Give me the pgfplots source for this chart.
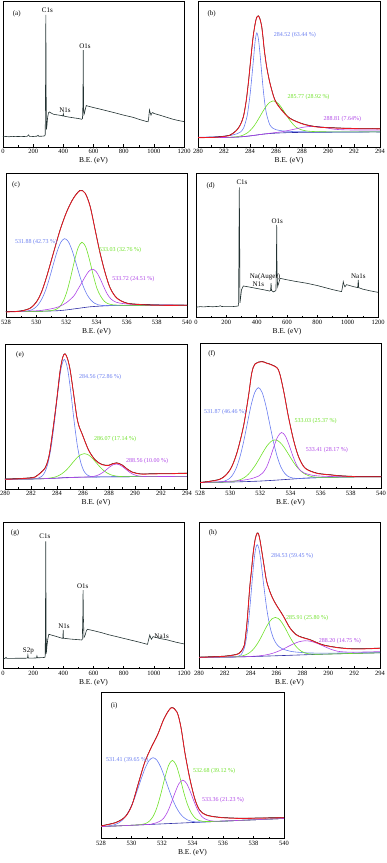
\documentclass[border=0pt]{standalone}
\usepackage{pgfplots}
\pgfplotsset{compat=1.18}
\usepackage{pgfplotstable}
\usepackage{fontspec}
\setmainfont{Liberation Serif}
\definecolor{cblue}{RGB}{105,125,240}
\definecolor{cgreen}{RGB}{110,225,40}
\definecolor{cpurple}{RGB}{175,70,230}
\definecolor{cbg}{RGB}{45,45,165}
\definecolor{cred}{RGB}{235,25,35}
\definecolor{csurv}{RGB}{35,50,50}
\tikzset{
 lab/.style={font=\fontsize{6}{6}\selectfont, inner sep=0pt},
 plab/.style={font=\fontsize{7}{7}\selectfont, inner sep=0pt},
}
\pgfplotsset{
 panel/.style={scale only axis, anchor=south west, ymin=0, ymax=100, ytick=\empty,
   xtick pos=bottom, tick align=inside, major tick length=2.5pt, minor tick length=1.5pt,
   minor x tick num=1, axis line style={line width=0.5pt},
   every tick/.style={line width=0.4pt, black},
   tick label style={font=\fontsize{6.5}{7}\selectfont},
   xticklabel style={yshift=1pt},
   /pgf/number format/assume math mode=true, /pgf/number format/1000 sep={},
   xlabel={B.E. (eV)}, xlabel style={font=\fontsize{7.5}{8}\selectfont, yshift=3pt}},
 survey/.style={panel, xmin=0, xmax=1200, xtick={0,200,...,1200}},
 cpan/.style={panel, xmin=280, xmax=294, xtick={280,282,...,294}},
 opan/.style={panel, xmin=528, xmax=540, xtick={528,530,...,540}},
 sv/.style={csurv, line width=0.6pt, sharp plot},
 bgl/.style={cbg, line width=0.6pt, smooth},
 fb/.style={cblue, line width=0.6pt, smooth},
 fg/.style={cgreen, line width=0.6pt, smooth},
 fp/.style={cpurple, line width=0.6pt, smooth},
 fk/.style={black, line width=0.5pt, smooth, yshift=0.3pt},
 fr/.style={cred, line width=0.8pt, smooth},
}
\pgfplotstableread{
x y
280 6.4
281 6.5
281.7 6.9
282.46 8.0
282.97 11.4
283.25 15
283.49 20.6
283.7 31
283.87 43.5
284.0 55
284.13 66.4
284.25 76
284.38 83.5
284.5 88.3
284.64 89.7
284.77 87.5
284.9 82.4
285.0 75
285.1 66.4
285.28 54.9
285.54 43.5
285.92 32.0
286.44 25.2
287.08 19.5
288.1 15.6
289.13 13.7
290 13.2
291 12.8
292 12.6
293 12.5
294 12.4
}\redb
\pgfplotstableread{
x y
528 3.7
528.93 4.2
529.6 6.2
530.04 10.9
530.37 17.8
530.7 28.2
531.14 44.3
531.59 60.5
532.03 73.2
532.47 82.4
532.91 87.8
533.25 85.9
533.58 76.7
533.91 60.5
534.24 44.3
534.58 30.5
534.91 20.1
535.35 13.2
536.01 9.7
536.9 8.8
538.2 8.3
540 8.3
}\redc
\pgfplotstableread{
x y
280 6.7
281 7.0
282 7.6
282.3 8.1
282.7 10.8
283.08 14.3
283.3 19.5
283.47 26.9
283.72 43.0
283.98 61.4
284.24 81.5
284.45 91.0
284.62 93.1
284.8 90.0
285.01 82.1
285.27 66.0
285.52 49.9
285.7 43.0
285.91 38.4
286.42 26.9
286.93 20.0
287.45 16.8
287.96 16.2
288.3 17.4
288.6 17.9
289.0 16.5
289.38 13.8
289.8 11.5
290.4 10.3
291 10.3
292 10.5
293 10.6
294 10.8
}\rede
\pgfplotstableread{
x y
528 3.9
529.33 6.2
529.99 12.6
530.44 24.1
530.88 42.5
531.21 63.2
531.43 79.3
531.65 85.7
532.1 87.3
532.42 86.2
532.76 85.0
533.2 81.6
533.53 67.8
533.86 49.4
534.2 33.3
534.53 21.8
534.97 13.8
535.75 10.3
536.63 9.2
537.3 8.5
538.4 8.0
540 8.0
}\redf
\pgfplotstableread{
x y
280 7.5
281 7.8
282 8.2
282.8 9.2
283.1 10.2
283.29 11.8
283.45 14.5
283.54 17.5
283.72 32
283.93 55.9
284.06 67
284.19 78.8
284.35 88.5
284.5 92.5
284.62 91.5
284.75 86
285.0 72
285.22 60
285.5 52
285.75 47
286.0 43
286.5 36
287.0 28
287.5 23
288.0 21
288.58 19.5
289.6 15.9
290.9 13.9
292.2 13.2
294 13.7
}\redh
\pgfplotstableread{
x y
528 8.4
528.97 10.7
529.6 14.8
530.03 22.7
530.45 37.5
530.87 52
531.29 62
531.72 71
532.14 82
532.6 89.3
532.98 86.4
533.24 76.1
533.51 58.0
533.83 40.5
534.15 27
534.46 19.3
534.89 15.9
535.73 14.3
537.21 13.6
540 14.1
}\redi
\begin{document}
\begin{tikzpicture}
\path[use as bounding box] (0pt,0pt) rectangle (387pt,863pt);
% (a)
\begin{axis}[survey, at={(3pt,716pt)}, width=181pt, height=146pt]
\addplot[sv] coordinates {(0,7.0)(20,7.2)(40,7.0)(60,7.3)(80,7.1)(100,7.2)(120,7.1)(140,7.2)(160,7.3)(170,8.3)(175,7.3)(200,7.2)(225,7.4)(232,8.0)(238,7.3)(260,7.4)(276,7.6)(280,8.5)(282,40)(284,90.5)(286,40)(288,12)(291,14.4)(296,20.5)(302,23.5)(308,24)(315,23.5)(335,22.4)(360,22.0)(390,21.5)(397,21.2)(400,22.8)(403,21.2)(430,20.6)(467,20.0)(500,19.5)(522,19.0)(527,19.5)(530,30)(532,66.4)(534,30)(536,22)(540,23)(546,26)(552,28.4)(556,28.2)(600,27.0)(650,25.8)(700,24.5)(753,23.1)(800,21.8)(863,20.3)(900,19.0)(950,17.5)(962,17.3)(966,20)(971,25.4)(976,23.5)(981,21.8)(987,23.2)(993,23.6)(1000,23.0)(1040,21.8)(1080,20.5)(1127,19.0)(1160,18.2)(1200,17.4)};
\node[plab] at (91,91.1) {(a)};
\node[plab] at (294,93.5) {C1s};
\node[plab] at (544,69.2) {O1s};
\node[plab] at (411,24.9) {N1s};
\end{axis}
% (b)
\begin{axis}[cpan, at={(198pt,716pt)}, width=182pt, height=146pt]
\addplot[bgl] coordinates {(280,6.4)(281,6.4)(282,6.5)(283,6.8)(283.5,7.1)(284,7.6)(284.5,8.2)(285,8.8)(285.5,9.2)(286,9.5)(286.5,9.7)(287,9.85)(288,10.0)(289,10.05)(290,10.1)(291,10.2)(292,10.2)(293,10.3)(294,10.3)};
\addplot[fb] coordinates {(280,6.7)(281.02,6.9)(282.02,7.4)(282.52,7.9)(282.77,8.5)(283.02,9.1)(283.27,10.3)(283.52,13.2)(283.77,20.9)(283.895,28.1)(284.02,37.0)(284.145,48.3)(284.27,60.2)(284.395,72.4)(284.52,78.2)(284.645,74.2)(284.77,63.8)(284.895,51.2)(285.02,39.2)(285.145,29.5)(285.27,22.6)(285.52,15.3)(285.77,12.8)(286.02,11.8)(286.27,11.35)(286.52,11.0)(287.02,10.7)(287.52,10.5)(288.02,10.5)(288.52,10.35)(289.02,10.3)(290.52,10.3)(292.52,10.3)(294,10.36)};
\addplot[fg] coordinates {(280,6.4)(281.02,6.4)(282.02,6.5)(282.52,6.65)(282.77,6.8)(283.02,7.1)(283.27,7.5)(283.52,8.3)(283.77,9.5)(284.02,11.4)(284.27,13.9)(284.52,17.2)(284.77,21.0)(285.02,24.8)(285.27,28.2)(285.52,30.6)(285.77,31.6)(286.02,30.9)(286.27,28.8)(286.52,25.7)(287.02,18.85)(287.52,13.7)(288.02,11.6)(288.52,10.8)(289.02,10.55)(289.52,10.45)(290.52,10.35)(292.52,10.35)(294,10.35)};
\addplot[fp] coordinates {(280,6.4)(282,6.5)(283,6.8)(284,7.6)(284.77,8.5)(285.27,9.1)(285.77,9.67)(286.27,10.21)(286.52,10.57)(287.02,11.44)(287.52,12.41)(288.02,13.41)(288.52,14.0)(289.02,14.1)(289.52,13.63)(290.52,12.15)(291.52,11.7)(292.52,11.65)(294,11.6)};
\addplot[fk] table {\redb};
\addplot[fr] table {\redb};
\node[plab] at (281.05,91) {(b)};
\node[lab, text=cblue] at (287.46,76.7) {284.52 (63.44 \%)};
\node[lab, text=cgreen] at (288.5,34.3) {285.77 (28.92 \%)};
\node[lab, text=cpurple] at (291.1,19.2) {288.81 (7.64\%)};
\end{axis}
% (c)
\begin{axis}[opan, at={(6pt,545.7pt)}, width=181pt, height=144.3pt]
\addplot[bgl] coordinates {(528,3.9)(529,3.9)(530,4.1)(531,4.4)(531.5,4.6)(532,5.1)(532.5,5.8)(533,6.5)(533.5,7.2)(534,7.6)(534.5,7.9)(535,8.1)(536,8.3)(537,8.3)(538,8.4)(540,8.3)};
\addplot[fb] coordinates {(528,3.9)(529.13,4.0)(529.38,4.3)(529.63,4.9)(529.88,6.2)(530.13,8.7)(530.38,12.8)(530.63,18.9)(530.88,27.1)(531.13,36.4)(531.38,45.3)(531.63,51.9)(531.88,54.5)(532.13,52.5)(532.38,46.4)(532.63,37.9)(532.88,29.0)(533.13,21.3)(533.38,15.6)(533.63,11.9)(533.88,9.7)(534.13,8.6)(534.38,8.2)(534.63,8.1)(535,8.1)(536,8.3)(538,8.4)(540,8.3)};
\addplot[fg] coordinates {(528,3.9)(529.5,4.0)(530.5,4.25)(531.03,4.65)(531.28,5.35)(531.53,7.0)(531.78,10.85)(532.03,17.55)(532.28,27.4)(532.53,38.75)(532.78,48.15)(533.03,52.0)(533.28,48.9)(533.53,40.1)(533.78,29.3)(534.03,20.0)(534.28,14.5)(534.53,11.0)(534.78,9.4)(535.03,8.7)(535.5,8.4)(536,8.3)(538,8.4)(540,8.3)};
\addplot[fp] coordinates {(528,3.9)(530,4.5)(530.5,5.05)(531,5.9)(531.5,7.3)(532,10.1)(532.5,14.8)(532.72,18.6)(532.97,22.95)(533.22,27.6)(533.47,31.65)(533.72,33.3)(533.97,31.8)(534.22,27.25)(534.47,21.4)(534.72,16.0)(534.97,12.6)(535.3,10.45)(535.8,9.45)(536.5,8.9)(537.5,8.65)(540,8.4)};
\addplot[fk] table {\redc};
\addplot[fr] table {\redc};
\node[plab] at (528.66,91.7) {(c)};
\node[lab, text=cblue] at (530.0,52) {531.88 (42.73 \%)};
\node[lab, text=cgreen] at (535.57,46.6) {533.03 (32.76 \%)};
\node[lab, text=cpurple] at (536.45,26.5) {533.72 (24.51 \%)};
\end{axis}
% (d)
\begin{axis}[survey, at={(196pt,545.7pt)}, width=182pt, height=144.3pt]
\addplot[sv] coordinates {(0,7.0)(30,7.4)(50,7.2)(80,7.5)(110,7.3)(150,7.6)(160,8.0)(170,7.5)(220,7.6)(250,7.5)(278,7.8)(281,10)(283,50)(285.6,90)(288,50)(290,10)(293,12.5)(300,19)(312,21.7)(350,21.0)(400,20.0)(450,19.0)(485,18.2)(492,18.5)(495,23.6)(498,18.6)(510,17.6)(527,18.5)(530,35)(532,64)(534,35)(538,21.1)(545,23.5)(554,27.0)(600,26.0)(650,25.0)(730,23.6)(800,22.0)(900,19.2)(960,17.8)(966,21)(971,24.7)(976,22.5)(982,21.1)(992,22.6)(1000,22.4)(1040,21.2)(1066,20.6)(1070,25.9)(1073,20.5)(1100,19.5)(1150,18.3)(1200,17.3)};
\node[plab] at (97,91.2) {(d)};
\node[plab] at (303,93.5) {C1s};
\node[plab] at (536,66.5) {O1s};
\node[plab] at (455,27.7) {Na(Auger)};
\node[plab] at (411,23.1) {N1s};
\node[plab] at (1070,28.5) {Na1s};
\end{axis}
% (e)
\begin{axis}[cpan, at={(5pt,374pt)}, width=182pt, height=145pt]
\addplot[bgl] coordinates {(280,6.7)(282,6.9)(283,7.1)(284,7.5)(284.5,7.8)(285,8.0)(286,8.2)(287,8.3)(288,8.4)(290,8.5)(292,8.6)(294,8.7)};
\addplot[fb] coordinates {(280,6.7)(281,6.8)(282,6.9)(282.56,7.45)(282.81,8.57)(283.06,11.5)(283.31,17.95)(283.56,29.55)(283.81,46.7)(284.06,66.45)(284.31,82.9)(284.56,89.4)(284.81,83.1)(285.06,66.9)(285.31,47.3)(285.56,30.3)(285.81,18.85)(286.06,12.57)(286.31,9.77)(286.56,8.7)(287,8.3)(288,8.4)(290,8.5)(292,8.6)(294,8.7)};
\addplot[fg] coordinates {(280,6.7)(282,6.9)(283.1,7.2)(283.35,7.45)(283.6,7.75)(283.85,8.25)(284.1,9.1)(284.35,10.35)(284.6,12.1)(284.85,14.3)(285.1,17.0)(285.35,19.65)(285.6,22.1)(285.85,23.75)(286.1,24.4)(286.35,23.85)(286.6,22.25)(286.85,19.9)(287.1,17.3)(287.35,14.8)(287.6,12.65)(287.85,11.05)(288.1,9.92)(288.35,9.25)(288.6,8.85)(288.85,8.65)(289.1,8.55)(290,8.5)(292,8.6)(294,8.7)};
\addplot[fp] coordinates {(280,6.7)(282,6.9)(284,7.5)(286,8.2)(286.56,8.42)(286.81,8.7)(287.06,9.24)(287.31,10.2)(287.56,11.6)(287.81,13.4)(288.06,15.26)(288.31,16.7)(288.56,17.23)(288.81,16.7)(289.06,15.3)(289.31,13.5)(289.56,11.7)(289.81,10.35)(290.06,9.44)(290.31,8.92)(290.56,8.7)(291,8.55)(292,8.6)(294,8.7)};
\addplot[fk] table {\rede};
\addplot[fr] table {\rede};
\node[plab] at (281.16,92.4) {(e)};
\node[lab, text=cblue] at (287.32,77.4) {284.56 (72.86 \%)};
\node[lab, text=cgreen] at (288.47,34.5) {286.07 (17.14 \%)};
\node[lab, text=cpurple] at (290.94,19.1) {288.56 (10.00 \%)};
\end{axis}
% (f)
\begin{axis}[opan, at={(200pt,374.7pt)}, width=181pt, height=145pt]
\addplot[bgl] coordinates {(528,3.9)(530,4.3)(531,4.6)(532,5.0)(533,5.6)(534,6.3)(535,7.0)(536,7.4)(538,7.8)(540,8.0)};
\addplot[fb] coordinates {(528,3.9)(529.12,4.18)(529.37,4.4)(529.62,4.92)(529.87,6.11)(530.12,8.57)(530.37,13.1)(530.62,20.6)(530.87,31.06)(531.12,43.75)(531.37,56.45)(531.62,65.85)(531.87,69.45)(532.12,66.07)(532.37,56.9)(532.62,44.47)(532.87,32.02)(533.12,21.78)(533.37,14.56)(533.62,10.27)(533.87,8.04)(534.12,7.1)(534.37,6.81)(534.62,6.81)(535,7.0)(536,7.4)(538,7.8)(540,8.0)};
\addplot[fg] coordinates {(528,3.9)(529.95,4.46)(530.2,4.74)(530.45,5.24)(530.7,6.1)(530.95,7.48)(531.2,9.6)(531.45,12.7)(531.7,16.38)(531.95,20.78)(532.2,25.3)(532.45,29.37)(532.7,32.22)(532.95,33.37)(533.2,32.54)(533.45,30.02)(533.7,26.29)(533.95,22.07)(534.2,17.94)(534.45,14.4)(534.7,11.71)(534.95,9.86)(535.2,8.66)(535.45,7.99)(535.7,7.67)(535.95,7.55)(536.5,7.55)(538,7.8)(540,8.0)};
\addplot[fp] coordinates {(528,3.9)(529.41,4.55)(530.41,5.12)(530.91,5.68)(531.41,6.66)(531.91,8.57)(532.16,10.6)(532.41,14.54)(532.66,21.2)(532.91,29.05)(533.16,35.7)(533.41,38.48)(533.66,36.06)(533.91,29.74)(534.16,22.21)(534.41,15.89)(534.66,12.26)(534.91,10.54)(535.41,9.06)(535.91,8.46)(536.41,8.18)(537.41,8.03)(538.5,8.0)(540,8.1)};
\addplot[fk] table {\redf};
\addplot[fr] table {\redf};
\node[plab] at (528.78,92.6) {(f)};
\node[lab, text=cblue] at (529.66,52.4) {531.87 (46.46 \%)};
\node[lab, text=cgreen] at (535.66,46.4) {533.03 (25.37 \%)};
\node[lab, text=cpurple] at (536.41,26.4) {533.41 (28.17 \%)};
\end{axis}
% (g)
\begin{axis}[survey, at={(3pt,194.7pt)}, width=181pt, height=146pt]
\addplot[sv] coordinates {(0,6.2)(15,6.9)(20,7.5)(25,6.8)(60,6.8)(100,6.9)(150,6.9)(162,7.0)(165,9.1)(168,7.0)(200,7.0)(222,7.1)(225,8.5)(228,7.2)(260,7.3)(278,7.5)(280,9)(282,45)(283.5,87)(285,45)(287,10)(291,14.8)(297,20.0)(304,23.3)(330,22.5)(357,21.7)(394,20.5)(397,20.5)(399,26.3)(401,20.6)(450,20.0)(500,19.6)(522,19.4)(526,20)(529,35)(531,53.6)(533,35)(537,21.2)(544,22.5)(552,25.5)(559,26.7)(600,25.8)(650,24.5)(700,23.0)(753,21.7)(800,20.5)(900,18.0)(958,16.4)(964,19)(973,22.8)(979,21)(984,19.9)(995,21.7)(1040,20.4)(1083,19.6)(1150,17.8)(1200,16.7)};
\node[plab] at (80,92.5) {(g)};
\node[plab] at (278,90.5) {C1s};
\node[plab] at (528,56) {O1s};
\node[plab] at (404,28.8) {N1s};
\node[plab] at (168,12) {S2p};
\node[plab] at (1052,22.3) {Na1s};
\end{axis}
% (h)
\begin{axis}[cpan, at={(199pt,194.7pt)}, width=181pt, height=146pt]
\addplot[bgl] coordinates {(280,7.4)(283,7.8)(285,8.3)(287,8.9)(289,9.5)(291,10.0)(294,10.6)};
\addplot[fb] coordinates {(280,7.4)(281,7.53)(282,7.67)(282.5,7.73)(282.75,7.8)(283,8.03)(283.25,9.21)(283.5,13.73)(283.625,18.56)(283.75,25.89)(283.875,35.92)(284,48.15)(284.125,61.28)(284.25,73.21)(284.375,81.64)(284.5,84.68)(284.625,82.31)(284.75,75.84)(284.875,67.02)(285,57.4)(285.25,40.18)(285.5,28.05)(285.75,20.73)(286,16.6)(286.25,14.38)(286.5,13.11)(287,11.8)(287.5,11.12)(288.5,10.53)(289.5,10.4)(291.5,10.5)(294,10.8)};
\addplot[fg] coordinates {(280,7.4)(282,7.67)(282.9,7.93)(283.15,8.17)(283.4,8.61)(283.65,9.35)(283.9,10.63)(284.15,12.56)(284.4,15.3)(284.65,18.81)(284.9,22.97)(285.15,27.35)(285.4,31.17)(285.65,33.9)(285.9,34.87)(286.15,34.05)(286.4,31.47)(286.65,27.8)(286.9,23.57)(287.15,19.55)(287.4,16.17)(287.65,13.57)(287.9,11.77)(288.15,10.64)(288.4,10.03)(288.65,9.73)(288.9,9.61)(290,9.75)(292,10.2)(294,10.6)};
\addplot[fp] coordinates {(280,7.4)(282,7.67)(283.5,7.93)(284.2,8.22)(284.7,8.59)(285.2,9.2)(285.7,10.29)(286.2,11.92)(286.7,14.04)(287.2,16.28)(287.7,18.09)(288.2,18.86)(288.7,18.39)(289.2,16.87)(289.7,14.91)(290.2,13.06)(290.7,11.71)(291.2,11.24)(291.7,11.04)(292.2,11.04)(293,11.2)(294,11.4)};
\addplot[fk] table {\redh};
\addplot[fr] table {\redh};
\node[plab] at (281.08,92.5) {(h)};
\node[lab, text=cblue] at (287.21,76.9) {284.53 (59.45 \%)};
\node[lab, text=cgreen] at (288.37,34.7) {285.91 (25.80 \%)};
\node[lab, text=cpurple] at (290.9,18.9) {288.20 (14.75 \%)};
\end{axis}
% (i)
\begin{axis}[opan, at={(101pt,24.7pt)}, width=183pt, height=146pt]
\addplot[bgl] coordinates {(528,8.0)(534,10.8)(540,13.6)};
\addplot[fb] coordinates {(528,8.0)(528.41,8.37)(528.66,8.74)(528.91,9.38)(529.16,10.54)(529.41,12.56)(529.66,15.68)(529.91,20.29)(530.16,26.41)(530.41,33.73)(530.66,41.45)(530.91,48.46)(531.16,53.38)(531.41,55.19)(531.66,53.61)(531.91,48.93)(532.16,42.15)(532.41,34.66)(532.66,27.58)(532.91,21.7)(533.16,17.32)(533.41,14.43)(533.66,12.65)(533.91,11.73)(534.16,11.31)(534.41,11.18)(535,11.3)(536,11.74)(538,12.67)(540,13.6)};
\addplot[fg] coordinates {(528,8.0)(530,8.93)(530.68,9.49)(530.93,10.17)(531.18,11.81)(531.43,15.26)(531.68,21.47)(531.93,30.64)(532.18,41.15)(532.43,49.87)(532.68,53.38)(532.93,50.1)(533.18,41.62)(533.43,31.34)(533.68,22.9)(533.93,17.2)(534.18,13.8)(534.43,12.2)(534.68,11.6)(535.2,11.5)(536,11.74)(538,12.67)(540,13.6)};
\addplot[fp] coordinates {(528,8.0)(531,9.4)(531.36,9.93)(531.61,10.53)(531.86,11.68)(532.11,13.76)(532.36,18.01)(532.61,24.26)(532.86,31.42)(533.11,37.39)(533.36,39.81)(533.61,37.63)(533.86,31.89)(534.11,24.96)(534.36,18.95)(534.61,14.93)(534.86,13.08)(535.11,12.17)(535.36,11.8)(536,11.84)(538,12.67)(540,13.6)};
\addplot[fk] table {\redi};
\addplot[fr] table {\redi};
\node[plab] at (528.86,90.9) {(i)};
\node[lab, text=cblue] at (529.71,53.4) {531.41 (39.65 \%)};
\node[lab, text=cgreen] at (535.42,46.1) {532.68 (39.12 \%)};
\node[lab, text=cpurple] at (536.0,26.1) {533.36 (21.23 \%)};
\end{axis}
\end{tikzpicture}
\end{document}
